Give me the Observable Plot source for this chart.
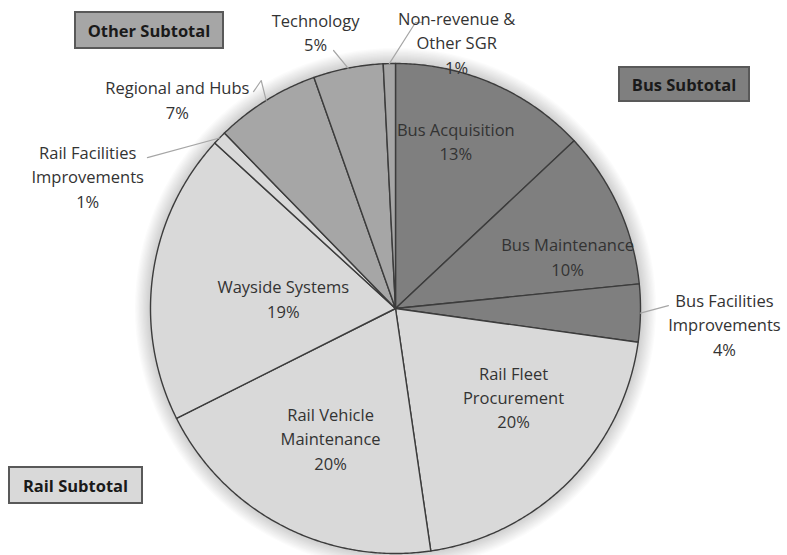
<!DOCTYPE html>
<html><head><meta charset="utf-8">
<script src="https://cdn.jsdelivr.net/npm/d3@7"></script>
<script src="https://cdn.jsdelivr.net/npm/@observablehq/plot@0.6"></script>
<style>
body{margin:0;background:#fff;font-family:"Open Sans",sans-serif;}
#wrap{position:relative;width:787px;height:555px;overflow:hidden;}
#wrap svg{position:absolute;left:0;top:0;}
.box{position:absolute;box-sizing:border-box;border:2px solid #595959;font-weight:bold;font-size:16.5px;color:#1a1a1a;display:flex;align-items:center;justify-content:center;font-family:"Open Sans",sans-serif;}
</style></head><body><div id="wrap"></div>
<script>
// ---- data ----
const categories = ["Bus Acquisition","Bus Maintenance","Bus Facilities Improvements","Rail Fleet Procurement","Rail Vehicle Maintenance","Wayside Systems","Rail Facilities Improvements","Regional and Hubs","Technology","Non-revenue & Other SGR"];
const shares = [13.0, 10.4, 3.8, 20.5, 19.9, 19.2, 0.9, 6.9, 4.6, 0.8];
const groups = ["Bus","Bus","Bus","Rail","Rail","Rail","Rail","Other","Other","Other"];
const labelText = ["Bus Acquisition\n13%","Bus Maintenance\n10%","Bus Facilities\nImprovements\n4%","Rail Fleet\nProcurement\n20%","Rail Vehicle\nMaintenance\n20%","Wayside Systems\n19%","Rail Facilities\nImprovements\n1%","Regional and Hubs\n7%","Technology\n5%","Non-revenue &\nOther SGR\n1%"];
const subtotalNames = ["Bus Subtotal","Rail Subtotal","Other Subtotal"];
const subtotalGroups = ["Bus","Rail","Other"];
const groupColors = ["#7f7f7f","#d9d9d9","#a6a6a6"];

// ---- layout (label placement in polar form: degrees clockwise from north, radius in pie radii) ----
const labelAngle = [19.7, 72.9, 92.6, 126.6, 206.7, 275.6, 293.4, 313.9, 343.9, 12.9];
const labelRadius = [0.73, 0.735, 1.344, 0.60, 0.59, 0.46, 1.369, 1.236, 1.177, 1.118];
const leaderBends = [null, null, [[89.4,1.114]], null, null, null, [[301.3,1.185]], [[329.5,1.08],[326.8,1.058]], [[346.5,1.083]], [[4.0,1.17],[5.4,1.173]]];

const R = 245, cx = 395, cy = 308, W = 787, H = 555;
const rad = d => d * Math.PI / 180;
const polar = (deg, r) => ({x: r * Math.sin(rad(deg)), y: r * Math.cos(rad(deg))});

const arcs = d3.pie().sort(null).value(d => d)(shares);
const slicePts = [];
arcs.forEach((a, i) => {
  slicePts.push({name: categories[i], group: groups[i], x: 0, y: 0});
  const n = Math.max(2, Math.ceil((a.endAngle - a.startAngle) / rad(0.5)));
  for (let k = 0; k <= n; k++) {
    const t = a.startAngle + (a.endAngle - a.startAngle) * k / n;
    slicePts.push({name: categories[i], group: groups[i], x: Math.sin(t), y: Math.cos(t)});
  }
});

const labels = categories.map((c, i) => ({text: labelText[i], ...polar(labelAngle[i], labelRadius[i])}));

const leaderPts = [];
arcs.forEach((a, i) => {
  if (!leaderBends[i]) return;
  const mid = (a.startAngle + a.endAngle) / 2;
  leaderPts.push({name: categories[i], x: Math.sin(mid), y: Math.cos(mid)});
  leaderBends[i].forEach(([ang, r]) => leaderPts.push({name: categories[i], ...polar(ang, r)}));
});

const shadowRings = d3.range(1, 13).map(k => k * 1.3);

const chart = Plot.plot({
  width: W, height: H, margin: 0,
  x: {domain: [-cx / R, (W - cx) / R], axis: null},
  y: {domain: [-(H - cy) / R, cy / R], axis: null},
  color: {domain: subtotalGroups, range: groupColors},
  style: {fontFamily: '"Open Sans", sans-serif', background: "transparent"},
  marks: [
    ...shadowRings.map(s => Plot.dot([{x: 0, y: 0}], {x: "x", y: "y", r: R + s, fill: "#000", fillOpacity: 0.016, stroke: null})),
    Plot.line(slicePts, {x: "x", y: "y", z: "name", fill: "group", stroke: "#3c3c3c", strokeWidth: 1.4, curve: "linear-closed", strokeLinejoin: "round"}),
    Plot.line(leaderPts, {x: "x", y: "y", z: "name", stroke: "#a6a6a6", strokeWidth: 1.2}),
    Plot.text(labels, {x: "x", y: "y", text: "text", fontSize: 16.5, lineHeight: 1.48, fill: "#333"})
  ]
});

const wrap = document.getElementById("wrap");
wrap.appendChild(chart);

const boxLayout = [
  {left: 618, top: 66, width: 132, height: 36},
  {left: 8, top: 466, width: 135, height: 38},
  {left: 74, top: 11, width: 150, height: 38}
];
subtotalNames.forEach((n, i) => {
  const d = document.createElement("div");
  d.className = "box";
  d.textContent = n;
  Object.assign(d.style, {left: boxLayout[i].left + "px", top: boxLayout[i].top + "px", width: boxLayout[i].width + "px", height: boxLayout[i].height + "px", background: groupColors[i]});
  wrap.appendChild(d);
});
</script>
</body></html>
